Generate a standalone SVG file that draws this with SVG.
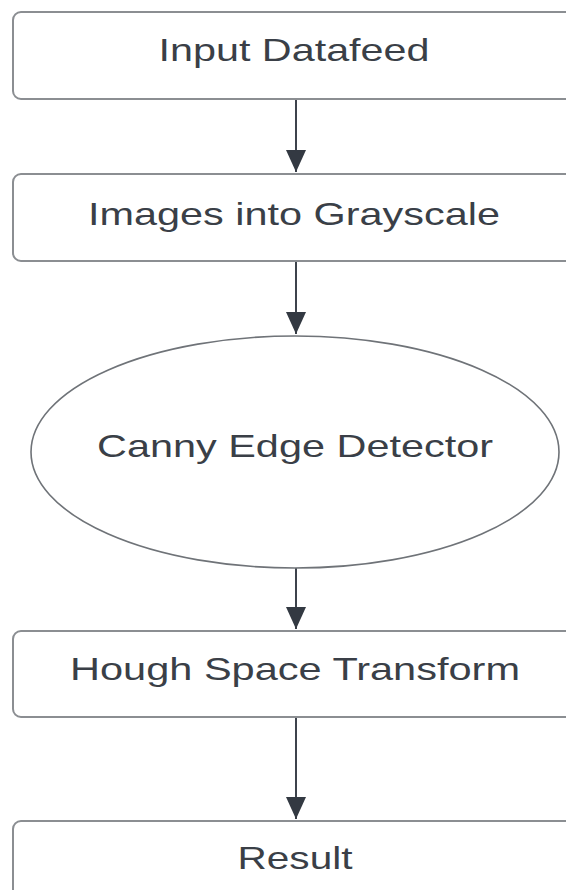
<svg xmlns="http://www.w3.org/2000/svg" width="566" height="890" viewBox="0 0 566 890">
<defs>
<style>
.box{fill:#ffffff;stroke:#8b8e92;stroke-width:2}
.ell{fill:#ffffff;stroke:#6f7378;stroke-width:1.6}
.lbl{font-family:"Liberation Sans",Arial,sans-serif;font-size:32px;fill:#3a3f47;text-anchor:middle}
.edge{stroke:#3d434c;stroke-width:2;fill:none}
</style>
<marker id="ah" viewBox="0 0 22 20" refX="22" refY="10" markerWidth="22" markerHeight="20" markerUnits="userSpaceOnUse" orient="auto">
<path d="M0,0 L22,10 L0,20 Z" fill="#333942"/>
</marker>
</defs>
<rect width="566" height="890" fill="#ffffff"/>
<g id="connectors">
<path class="edge" d="M296,99 V172" marker-end="url(#ah)"/>
<path class="edge" d="M296,261 V334" marker-end="url(#ah)"/>
<path class="edge" d="M296,568 V629" marker-end="url(#ah)"/>
<path class="edge" d="M296,717 V819" marker-end="url(#ah)"/>
</g>
<g id="n1">
<rect class="box" x="13" y="12" width="580" height="87" rx="8"/>
<text class="lbl" x="294" y="61" textLength="271" lengthAdjust="spacingAndGlyphs">Input Datafeed</text>
</g>
<g id="n2">
<rect class="box" x="13" y="174" width="580" height="87" rx="8"/>
<text class="lbl" x="294" y="225" textLength="412" lengthAdjust="spacingAndGlyphs">Images into Grayscale</text>
</g>
<g id="n3">
<ellipse class="ell" cx="295" cy="452" rx="264" ry="116"/>
<text class="lbl" x="295" y="457" textLength="396" lengthAdjust="spacingAndGlyphs">Canny Edge Detector</text>
</g>
<g id="n4">
<rect class="box" x="13" y="631" width="580" height="86" rx="8"/>
<text class="lbl" x="295" y="680" textLength="450" lengthAdjust="spacingAndGlyphs">Hough Space Transform</text>
</g>
<g id="n5">
<rect class="box" x="13" y="821" width="580" height="100" rx="8"/>
<text class="lbl" x="295" y="869" textLength="115" lengthAdjust="spacingAndGlyphs">Result</text>
</g>
</svg>
